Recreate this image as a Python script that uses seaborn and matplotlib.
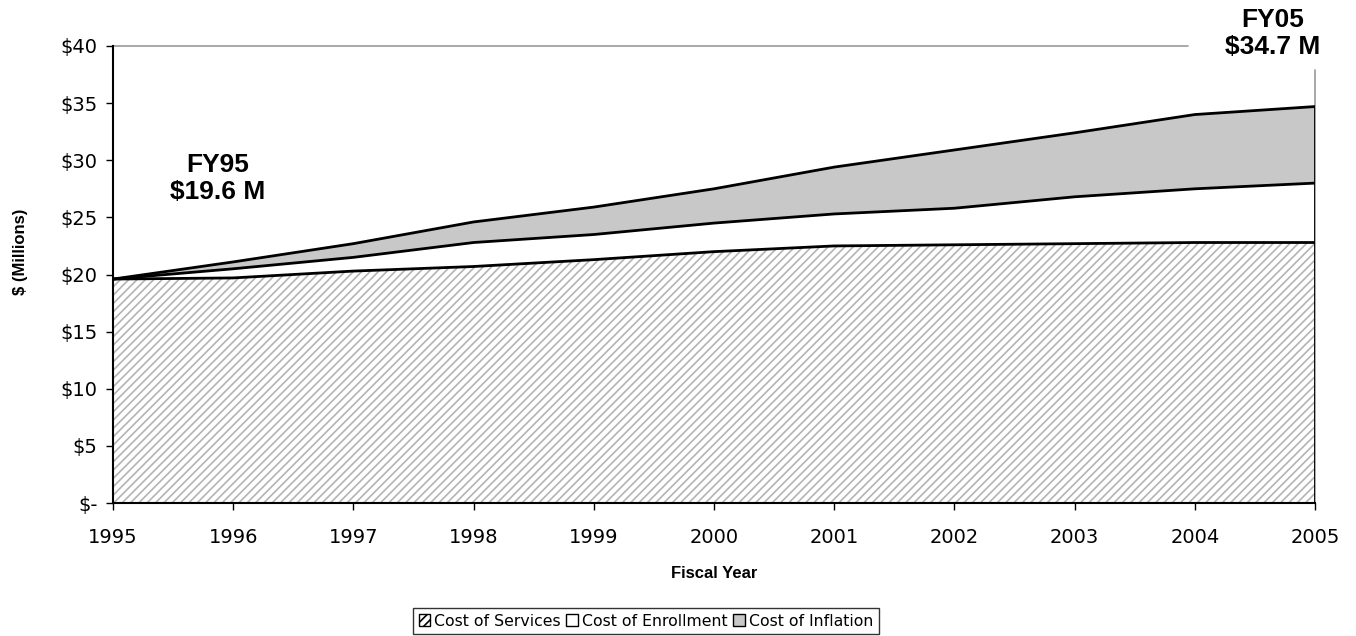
import matplotlib
matplotlib.use("Agg")
import matplotlib.pyplot as plt
import seaborn as sns
import numpy as np
import pandas as pd

# chart data ($ millions)
years = [1995, 1996, 1997, 1998, 1999, 2000, 2001, 2002, 2003, 2004, 2005]
cost_services = [19.6, 19.7, 20.3, 20.7, 21.3, 22.0, 22.5, 22.6, 22.7, 22.8, 22.8]
cost_enrollment = [0.0, 0.8, 1.2, 2.1, 2.2, 2.5, 2.8, 3.2, 4.1, 4.7, 5.2]
cost_inflation = [0.0, 0.6, 1.2, 1.8, 2.4, 3.0, 4.1, 5.1, 5.6, 6.5, 6.7]
series_names = ["Cost of Services", "Cost of Enrollment", "Cost of Inflation"]
y_ticks = [0, 5, 10, 15, 20, 25, 30, 35, 40]
y_tick_labels = ["$-", "$5", "$10", "$15", "$20", "$25", "$30", "$35", "$40"]

df = pd.DataFrame({"year": years,
                   "services": cost_services,
                   "enrollment": cost_enrollment,
                   "inflation": cost_inflation})
df["lvl1"] = df["services"]
df["lvl2"] = df["lvl1"] + df["enrollment"]
df["lvl3"] = df["lvl2"] + df["inflation"]

sns.set_theme(style="white")
plt.rcParams["font.family"] = ["DejaVu Sans"]
plt.rcParams["text.color"] = "black"
plt.rcParams["axes.labelcolor"] = "black"
plt.rcParams["xtick.color"] = "black"
plt.rcParams["ytick.color"] = "black"
plt.rcParams["hatch.color"] = "#b4b4b4"
plt.rcParams["hatch.linewidth"] = 1.2

fig = plt.figure(figsize=(13.56, 6.36), dpi=100)
ax = fig.add_axes([113 / 1356, 1 - 503 / 636, (1315 - 113) / 1356, (503 - 46) / 636])

# stacked areas
p1 = ax.fill_between(df["year"], 0, df["lvl1"], facecolor="white", hatch="////",
                     edgecolor="#b4b4b4", linewidth=0, label=series_names[0])
p2 = ax.fill_between(df["year"], df["lvl1"], df["lvl2"], facecolor="white",
                     linewidth=0, label=series_names[1])
p3 = ax.fill_between(df["year"], df["lvl2"], df["lvl3"], facecolor="#c8c8c8",
                     linewidth=0, label=series_names[2])

# outline of each layer
for col in ["lvl1", "lvl2", "lvl3"]:
    sns.lineplot(data=df, x="year", y=col, ax=ax, color="black", linewidth=2,
                 legend=False)
ax.plot([years[-1], years[-1]], [0, df["lvl3"].iloc[-1]], color="black", linewidth=2)

# gray plot-area border (top and right), interrupted by the FY05 label
ax.axhline(40, xmin=0, xmax=0.894, color="#999999", linewidth=1.2, clip_on=False)
ax.axvline(2005, ymin=0, ymax=0.948, color="#999999", linewidth=1.2, clip_on=False,
           zorder=1)

ax.set_xlim(1995, 2005)
ax.set_ylim(0, 40)
ax.set_xticks(years)
ax.set_xticklabels([str(y) for y in years], fontsize=14)
ax.set_yticks(y_ticks)
ax.set_yticklabels(y_tick_labels, fontsize=14)
ax.tick_params(axis="both", direction="out", length=5, width=1, color="black",
               left=True, bottom=True, pad=6)
ax.tick_params(axis="x", pad=13)

for side in ["left", "bottom"]:
    ax.spines[side].set_color("black")
    ax.spines[side].set_linewidth(1.5)
for side in ["top", "right"]:
    ax.spines[side].set_visible(False)

ax.set_xlabel("Fiscal Year", fontsize=12, fontweight="bold",
              family="Liberation Sans", labelpad=14)
ax.set_ylabel("$ (Millions)", fontsize=12, fontweight="bold",
              family="Liberation Sans", labelpad=10)
ax.yaxis.set_label_coords(-0.071, 0.55)

ax.text(1995.87, 28.4, "FY95\n$19.6 M", fontsize=19, fontweight="bold",
        family="Liberation Sans", ha="center", va="center", linespacing=1.2)
ax.text(2004.65, 41.1, "FY05\n$34.7 M", fontsize=19, fontweight="bold",
        family="Liberation Sans", ha="center", va="center", linespacing=1.2,
        clip_on=False, zorder=10)

leg = fig.legend(handles=[p1, p2, p3], labels=series_names, loc="center",
                 bbox_to_anchor=(646 / 1356, 1 - 621 / 636), ncol=3,
                 frameon=True, fancybox=False, fontsize=11.3,
                 handlelength=0.75, handleheight=0.75, handletextpad=0.25,
                 columnspacing=0.35, borderpad=0.35, borderaxespad=0)
leg.get_frame().set_edgecolor("black")
leg.get_frame().set_linewidth(1)
for h in leg.legend_handles:
    h.set_edgecolor("black")
    h.set_linewidth(1)

fig.savefig("out.png", dpi=100)
